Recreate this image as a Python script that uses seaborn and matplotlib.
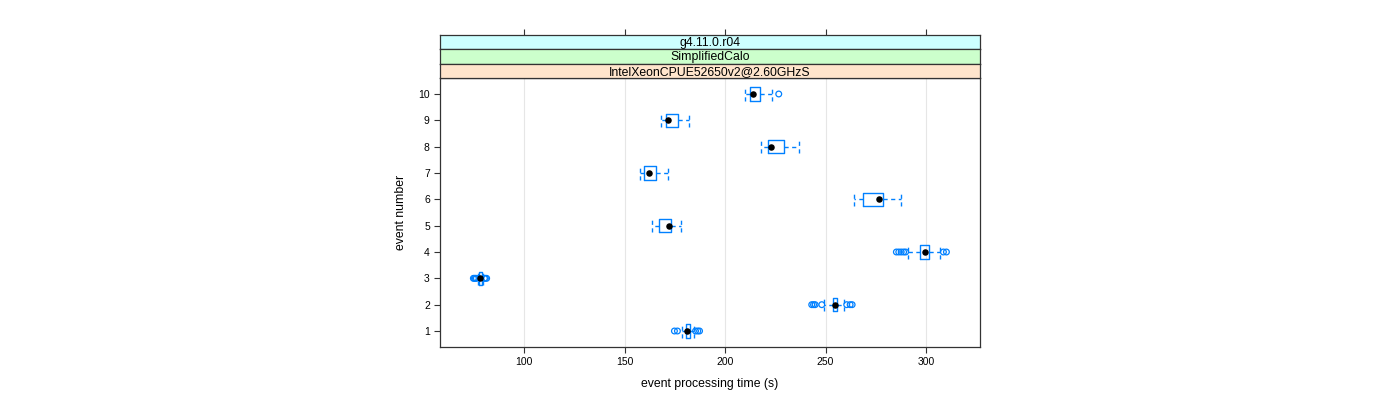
import matplotlib
matplotlib.use("Agg")
import matplotlib.pyplot as plt
import seaborn as sns
import pandas as pd

# ---- data ----
events = [1, 2, 3, 4, 5, 6, 7, 8, 9, 10]
whisker_low = [178.4, 249.3, 76.9, 291.0, 163.8, 264.3, 157.7, 218.0, 168.3, 209.7]
q1 = [180.4, 253.6, 77.6, 297.2, 167.2, 268.5, 159.7, 221.2, 170.5, 212.5]
medians = [181.3, 254.7, 78.3, 299.6, 172.0, 276.5, 162.2, 223.0, 171.7, 213.7]
q3 = [182.4, 255.9, 78.9, 301.3, 173.0, 278.8, 165.8, 229.3, 176.8, 217.5]
whisker_high = [184.6, 259.4, 79.4, 306.8, 178.3, 287.3, 171.8, 236.8, 182.3, 223.3]
outliers = {
    1: [174.8, 176.3, 185.3, 186.4, 187.3],
    2: [243.1, 244.0, 244.8, 248.1, 260.5, 262.2, 263.2],
    3: [74.8, 75.3, 75.8, 76.3, 80.3, 80.8, 81.4],
    4: [285.2, 286.4, 287.6, 288.8, 289.8, 308.6, 310.1],
    10: [226.7],
}
x_ticks = [100, 150, 200, 250, 300]
strip_labels = ["g4.11.0.r04", "SimplifiedCalo", "IntelXeonCPUE52650v2@2.60GHzS"]
strip_colors = ["#CCFFFF", "#CCFFCC", "#FFE5CC"]
x_label = "event processing time (s)"
y_label = "event number"

sns.set_theme(style="white")
plt.rcParams["font.family"] = ["Liberation Sans", "DejaVu Sans"]
plt.rcParams["text.color"] = "black"
plt.rcParams["axes.labelcolor"] = "black"
plt.rcParams["xtick.color"] = "black"
plt.rcParams["ytick.color"] = "black"

BLUE = "#0080ff"
W, H = 1400, 400
fig = plt.figure(figsize=(14, 4), dpi=100)
fig.patch.set_facecolor("white")

p_left, p_right, p_top, p_bot = 440, 980, 78.2, 346.8
ax = fig.add_axes([p_left / W, 1 - p_bot / H, (p_right - p_left) / W, (p_bot - p_top) / H])
XLIM = (58.2, 326.8)

stats = []
for i, e in enumerate(events):
    stats.append(dict(whislo=whisker_low[i], q1=q1[i], med=medians[i], q3=q3[i],
                      whishi=whisker_high[i], fliers=[], label=str(e)))

dash = (0, (3, 2.5))
ax.bxp(stats, positions=events, widths=0.5, capwidths=0.5, orientation="horizontal",
       showfliers=False, patch_artist=False, manage_ticks=False,
       boxprops=dict(color=BLUE, linewidth=1.0),
       whiskerprops=dict(color=BLUE, linewidth=1.0, linestyle=dash),
       capprops=dict(color=BLUE, linewidth=1.0, linestyle=dash),
       medianprops=dict(linewidth=0))

# outliers
ox, oy = [], []
for e, vals in outliers.items():
    ox += vals
    oy += [e] * len(vals)
ax.scatter(ox, oy, s=17, facecolors="none", edgecolors=BLUE, linewidths=0.9, zorder=3)

# medians
med_df = pd.DataFrame({"time": medians, "event": events})
sns.scatterplot(data=med_df, x="time", y="event", color="black", s=22,
                edgecolor="black", linewidth=0, ax=ax, zorder=4, legend=False)

ax.set_xlim(*XLIM)
ax.set_ylim(0.4, 10.6)
ax.set_xticks(x_ticks)
ax.set_xticklabels([str(t) for t in x_ticks])
ax.set_yticks(events)
ax.set_yticklabels([str(e) for e in events])
ax.grid(axis="x", color="#e6e6e6", linewidth=0.8)
ax.grid(axis="y", visible=False)
ax.set_axisbelow(True)
for s in ax.spines.values():
    s.set_color("#333333")
    s.set_linewidth(0.9)
ax.tick_params(axis="both", which="major", direction="out", length=4.3, width=0.8,
               color="#333333", labelsize=7.5, pad=3, bottom=True, left=True,
               right=False, labelright=False)
ax.set_xlabel(x_label, fontsize=8.8, labelpad=8)
ax.set_ylabel(y_label, fontsize=8.8, labelpad=8)

# strips
strip_h = (p_top - 35.0) / 3
for i, (lab, col) in enumerate(zip(strip_labels, strip_colors)):
    top = 35.0 + i * strip_h
    sax = fig.add_axes([p_left / W, 1 - (top + strip_h) / H, (p_right - p_left) / W, strip_h / H])
    sax.set_facecolor(col)
    sax.set_xlim(*XLIM)
    sax.set_ylim(0, 1)
    sax.set_yticks([])
    for s in sax.spines.values():
        s.set_color("#333333")
        s.set_linewidth(0.9)
    if i == 0:
        sax.set_xticks(x_ticks)
        sax.tick_params(axis="x", which="major", top=True, bottom=False, labeltop=False,
                        labelbottom=False, direction="out", length=4.3, width=0.8, color="#333333")
    else:
        sax.set_xticks([])
    sax.text(0.5, 0.45, lab, transform=sax.transAxes, ha="center", va="center", fontsize=8.8)

fig.savefig("out.png", dpi=100)
